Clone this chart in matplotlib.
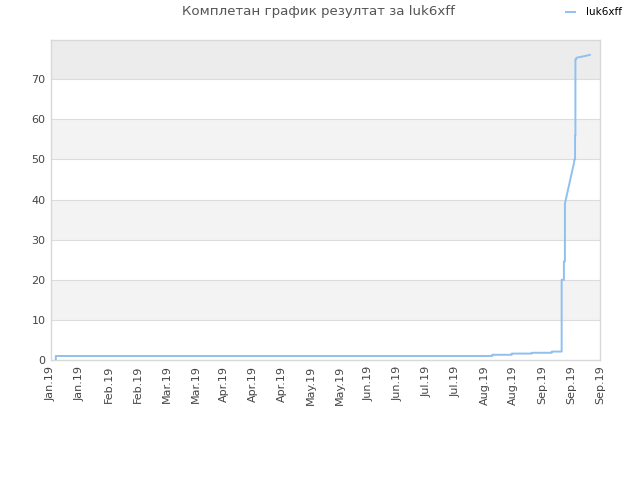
import matplotlib
matplotlib.use('Agg')
import matplotlib.pyplot as plt
import matplotlib.dates as mdates
import pandas as pd
import numpy as np

title = 'Комплетан график резултат за luk6xff'
label = 'luk6xff'

# cumulative result over time
times = ['2019-01-09 08:00', '2019-01-09 08:00', '2019-08-08 18:00', '2019-08-08 18:00',
         '2019-08-18 05:00', '2019-08-18 05:00', '2019-08-27 22:00', '2019-08-27 22:00',
         '2019-09-06 14:00', '2019-09-06 14:00', '2019-09-11 10:00', '2019-09-11 10:00',
         '2019-09-12 12:00', '2019-09-12 12:00', '2019-09-13 00:00', '2019-09-13 00:00',
         '2019-09-17 12:00', '2019-09-17 12:00', '2019-09-17 22:00', '2019-09-17 22:00',
         '2019-09-18 02:00', '2019-09-18 02:00', '2019-09-18 06:00', '2019-09-18 18:00',
         '2019-09-20 18:00', '2019-09-22 18:00', '2019-09-25 02:00']
values = [0, 1, 1, 1.3,
          1.3, 1.6, 1.6, 1.8,
          1.8, 2.1, 2.1, 20,
          20, 24.6, 24.6, 39,
          49.4, 50, 50, 56,
          56, 75, 75.0, 75.4,
          75.6, 75.8, 76.1]

x_start = pd.Timestamp('2019-01-07')
x_end = pd.Timestamp('2019-09-30')
y_ticks = [0, 10, 20, 30, 40, 50, 60, 70]

dates = pd.to_datetime(times)

fig = plt.figure(figsize=(6.4, 4.8), dpi=100)
ax = fig.add_axes([51/640, 0.25, 549/640, 320/480])

# alternating horizontal bands
for lo in range(0, 80, 10):
	if lo == 70:
		ax.axhspan(lo, lo+10, color='#ececec', zorder=0, lw=0)
	elif (lo // 10) % 2 == 1:
		ax.axhspan(lo, lo+10, color='#f3f3f3', zorder=0, lw=0)
for yv in y_ticks[1:]:
	ax.axhline(yv, color='#dcdcdc', lw=0.8, zorder=1)

ax.plot(dates, values, color='#90c0f0', lw=1.4, zorder=3, label=label)

ax.set_xlim(x_start, x_end)
ax.set_ylim(0, 79.8)
ax.set_yticks(y_ticks)
xt = pd.to_datetime(np.linspace(x_start.value, x_end.value, 20))
ax.set_xticks(xt)
ax.xaxis.set_major_formatter(mdates.DateFormatter('%b.%y'))
plt.setp(ax.get_xticklabels(), rotation=90)
ax.tick_params(axis='both', labelsize=8, colors='#444444', length=0, pad=4)
for s in ax.spines.values():
	s.set_color('#d8d8d8')
	s.set_linewidth(1)

fig.text(318/640, 1-12/480, title, ha='center', va='center', fontsize=9.6, color='#555555')
fig.legend(loc='upper right', bbox_to_anchor=(0.984, 1.0), frameon=False, fontsize=7.5,
	handlelength=0.9, handletextpad=1.1, borderaxespad=0.3)

fig.savefig('out.png', dpi=100)
